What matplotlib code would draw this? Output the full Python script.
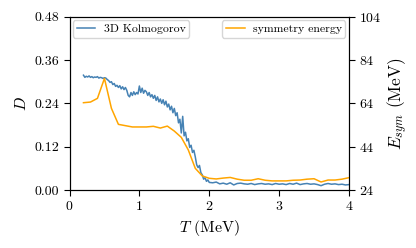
import matplotlib
matplotlib.use("Agg")
import matplotlib.pyplot as plt

plt.rcParams['font.family'] = 'serif'
plt.rcParams['font.serif'] = ['cmr10']
plt.rcParams['mathtext.fontset'] = 'cm'
plt.rcParams['axes.formatter.use_mathtext'] = True

# ---- data ----
t_kolmo = [0.20, 0.22, 0.24, 0.26, 0.28, 0.30, 0.32, 0.34, 0.36, 0.38,
           0.40, 0.42, 0.44, 0.46, 0.48, 0.50, 0.52, 0.54, 0.56, 0.58,
           0.60, 0.62, 0.64, 0.66, 0.68, 0.70, 0.72, 0.74, 0.76, 0.78,
           0.80, 0.82, 0.84, 0.86, 0.88, 0.90, 0.92, 0.94, 0.96, 0.98,
           1.00, 1.02, 1.04, 1.06, 1.08, 1.10, 1.12, 1.14, 1.16, 1.18,
           1.20, 1.22, 1.24, 1.26, 1.28, 1.30, 1.32, 1.34, 1.36, 1.38,
           1.40, 1.42, 1.44, 1.46, 1.48, 1.50, 1.52, 1.54, 1.56, 1.58,
           1.60, 1.62, 1.64, 1.66, 1.68, 1.70, 1.72, 1.74, 1.76, 1.78,
           1.80, 1.82, 1.84, 1.86, 1.88, 1.90, 1.92, 1.94, 1.96, 1.98,
           2.00, 2.05, 2.10, 2.15, 2.20, 2.25, 2.30, 2.35, 2.40, 2.45,
           2.50, 2.55, 2.60, 2.65, 2.70, 2.75, 2.80, 2.85, 2.90, 2.95,
           3.00, 3.05, 3.10, 3.15, 3.20, 3.25, 3.30, 3.35, 3.40, 3.45,
           3.50, 3.55, 3.60, 3.65, 3.70, 3.75, 3.80, 3.85, 3.90, 3.95,
           4.00]
d_kolmo = [0.318, 0.312, 0.315, 0.313, 0.316, 0.312, 0.314, 0.311, 0.313, 0.312,
           0.314, 0.310, 0.312, 0.311, 0.309, 0.311, 0.310, 0.306, 0.303, 0.298,
           0.300, 0.292, 0.295, 0.287, 0.290, 0.284, 0.289, 0.280, 0.286, 0.278,
           0.284, 0.276, 0.262, 0.258, 0.270, 0.262, 0.272, 0.264, 0.270, 0.266,
           0.288, 0.270, 0.282, 0.268, 0.276, 0.272, 0.262, 0.270, 0.258, 0.264,
           0.254, 0.262, 0.248, 0.258, 0.244, 0.252, 0.240, 0.250, 0.236, 0.246,
           0.230, 0.238, 0.222, 0.232, 0.214, 0.226, 0.206, 0.214, 0.186, 0.196,
           0.158, 0.204, 0.150, 0.160, 0.136, 0.142, 0.118, 0.124, 0.104, 0.110,
           0.092, 0.070, 0.062, 0.068, 0.048, 0.042, 0.030, 0.034, 0.024, 0.028,
           0.021, 0.020, 0.022, 0.017, 0.019, 0.016, 0.020, 0.014, 0.018, 0.019,
           0.017, 0.016, 0.018, 0.015, 0.017, 0.018, 0.016, 0.017, 0.015, 0.018,
           0.016, 0.017, 0.015, 0.018, 0.016, 0.019, 0.015, 0.017, 0.018, 0.016,
           0.017, 0.015, 0.012, 0.016, 0.018, 0.016, 0.017, 0.015, 0.016, 0.014,
           0.015]

t_esym = [0.2, 0.3, 0.4, 0.5, 0.6, 0.7, 0.8, 0.9, 1.0, 1.1,
          1.2, 1.3, 1.4, 1.5, 1.6, 1.7, 1.8, 1.9, 2.0, 2.1,
          2.2, 2.3, 2.4, 2.5, 2.6, 2.7, 2.8, 2.9, 3.0, 3.1,
          3.2, 3.3, 3.4, 3.5, 3.6, 3.7, 3.8, 3.9, 4.0]
e_sym = [64.3, 64.6, 66.3, 75.5, 61.7, 54.3, 53.7, 53.1, 53.1, 53.1,
         53.4, 52.6, 53.5, 51.2, 48.3, 42.5, 34.0, 30.5, 29.4, 29.1,
         29.5, 29.8, 29.0, 28.5, 28.5, 29.2, 28.5, 28.2, 28.2, 28.2,
         28.5, 28.6, 29.0, 29.2, 27.7, 28.6, 28.6, 29.0, 29.7]

# ---- figure ----
fig = plt.figure(figsize=(4.16, 2.48), dpi=100)
ax = fig.add_axes([69.5 / 416, 1 - 190 / 248, 279.5 / 416, 173.3 / 248])
ax2 = ax.twinx()

l1, = ax.plot(t_kolmo, d_kolmo, color='steelblue', lw=1.1, label='3D Kolmogorov')
l2, = ax2.plot(t_esym, e_sym, color='orange', lw=1.1, label='symmetry energy')

ax.set_xlim(0, 4)
ax.set_ylim(0, 0.48)
ax2.set_ylim(24, 104)
ax.set_xticks([0, 1, 2, 3, 4])
ax.set_yticks([0.0, 0.12, 0.24, 0.36, 0.48])
ax.set_yticklabels(['0.00', '0.12', '0.24', '0.36', '0.48'])
ax2.set_yticks([24, 44, 64, 84, 104])

for a in (ax, ax2):
    a.tick_params(labelsize=10, length=4, width=0.8)
    for s in a.spines.values():
        s.set_linewidth(0.8)

ax.set_xlabel('$T$ (MeV)', fontsize=11.5, labelpad=3)
ax.set_ylabel('$D$', fontsize=11.5)
ax2.set_ylabel('$E_{sym}$ (MeV)', fontsize=12.5, labelpad=3)

leg_kw = dict(fontsize=8.5, borderaxespad=0.3, borderpad=0.3,
              handlelength=1.6, handletextpad=0.7, framealpha=0.8)
ax.legend(handles=[l1], loc='upper left', **leg_kw)
ax2.legend(handles=[l2], loc='upper right', **leg_kw)

fig.savefig('out.png', dpi=100)
